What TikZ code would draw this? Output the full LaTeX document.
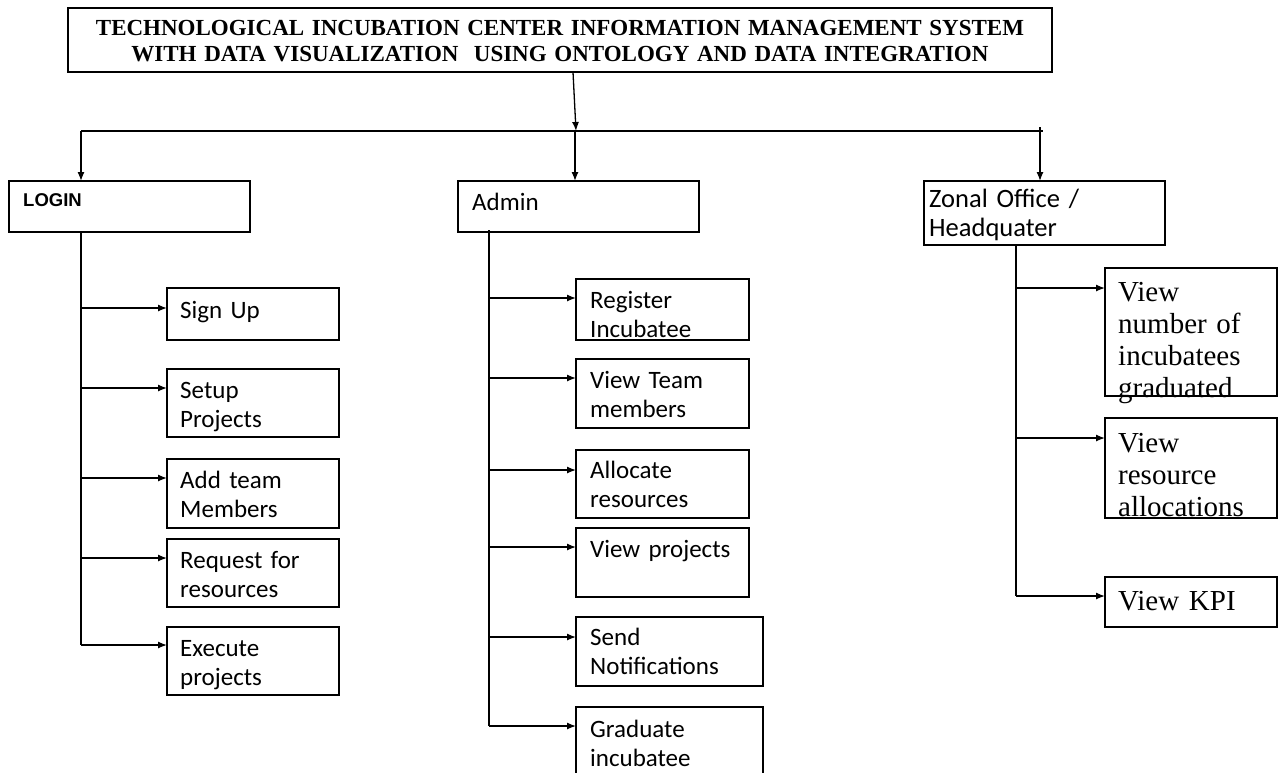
\documentclass[tikz,border=0pt]{standalone}
\usepackage{fontspec}
\setmainfont{Liberation Serif}
\newfontfamily\calibrifont{Carlito}
\newfontfamily\arialfont{Liberation Sans}
\usetikzlibrary{arrows.meta}

\begin{document}
\begin{tikzpicture}[x=1pt,y=-1pt,
  box/.style={draw, line width=1.3pt, anchor=north west, inner sep=0pt, outer sep=0pt},
  wire/.style={line width=1.3pt},
  arr/.style={line width=1.3pt, -{Latex[length=9pt,width=7pt]}},
  sans/.style={anchor=base west, inner sep=0pt, text width=200pt, align=left,
    font=\calibrifont\fontsize{25}{29}\selectfont},
  serif/.style={anchor=base west, inner sep=0pt, text width=200pt, align=left,
    font=\fontsize{29}{32}\selectfont}]
\useasboundingbox (0,0) rectangle (1278,772);
\clip (0,0) rectangle (1278,772);

% ---- title ----
\node[box, minimum width=984pt, minimum height=64pt] (title) at (68,8) {};
\node[anchor=base, inner sep=0pt, text width=1000pt, align=center,
  font=\bfseries\fontsize{23}{26}\selectfont] (titleT) at (560,35)
  {TECHNOLOGICAL INCUBATION CENTER INFORMATION MANAGEMENT SYSTEM\\
   WITH DATA VISUALIZATION\ \ USING ONTOLOGY AND DATA INTEGRATION};

% ---- top level boxes ----
\node[box, minimum width=241pt, minimum height=51pt] (login) at (9,181) {};
\node[anchor=base west, inner sep=0pt, font=\arialfont\bfseries\fontsize{18.5}{22}\selectfont] (loginT) at (23,206) {LOGIN};

\node[box, minimum width=241pt, minimum height=51pt] (admin) at (458,181) {};
\node[sans] (adminT) at (472,210) {Admin};

\node[box, minimum width=241pt, minimum height=64pt] (zonal) at (924,181) {};
\node[sans, font=\calibrifont\fontsize{26.5}{29}\selectfont] (zonalT) at (929,207) {Zonal Office /\\Headquater};

% ---- distribution bus ----
\coordinate (tA) at (573,72);
\coordinate (busM) at (576,131);
\coordinate (busL) at (81,131);
\coordinate (busR) at (1040,131);
\coordinate (busRt) at (1040,127);
\draw[arr] (tA) -- (busM);
\draw[wire] (busL) -- (1043,131);
\draw[arr] (busL) -- (busL |- login.north);
\draw[arr] (575,131) -- (575,181);
\draw[arr] (busRt) -- (busR |- zonal.north);

% ---- LOGIN branch ----
\node[box, minimum width=172pt, minimum height=52pt] (signup) at (167,288) {};
\node[sans] (signupT) at (180,318) {Sign Up};
\node[box, minimum width=172pt, minimum height=68pt] (setup) at (167,369) {};
\node[sans] (setupT) at (180,398) {Setup\\Projects};
\node[box, minimum width=172pt, minimum height=69pt] (addteam) at (167,459) {};
\node[sans] (addteamT) at (180,488) {Add team\\Members};
\node[box, minimum width=172pt, minimum height=68pt] (request) at (167,539) {};
\node[sans] (requestT) at (180,568) {Request for\\resources};
\node[box, minimum width=172pt, minimum height=68pt] (execute) at (167,627) {};
\node[sans] (executeT) at (180,656) {Execute\\projects};

\coordinate (L0) at (81,232);
\coordinate (L1) at (81,308);
\coordinate (L2) at (81,388);
\coordinate (L3) at (81,478);
\coordinate (L4) at (81,558);
\coordinate (L5) at (81,645);
\draw[wire] (L0) -- (L5);
\draw[arr] (L1) -- (L1 -| signup.west);
\draw[arr] (L2) -- (L2 -| setup.west);
\draw[arr] (L3) -- (L3 -| addteam.west);
\draw[arr] (L4) -- (L4 -| request.west);
\draw[arr] (L5) -- (L5 -| execute.west);

% ---- Admin branch ----
\node[box, minimum width=173pt, minimum height=61pt] (register) at (576,279) {};
\node[sans] (registerT) at (590,308) {Register\\Incubatee};
\node[box, minimum width=173pt, minimum height=69pt] (viewteam) at (576,359) {};
\node[sans] (viewteamT) at (590,388) {View Team\\members};
\node[box, minimum width=173pt, minimum height=68pt] (allocate) at (576,450) {};
\node[sans] (allocateT) at (590,478) {Allocate\\resources};
\node[box, minimum width=173pt, minimum height=69pt] (viewproj) at (576,528) {};
\node[sans] (viewprojT) at (590,557) {View projects};
\node[box, minimum width=187pt, minimum height=69pt] (send) at (576,617) {};
\node[sans] (sendT) at (590,645) {Send\\Notifications};
\node[box, minimum width=187pt, minimum height=80pt] (graduate) at (576,707) {};
\node[sans] (graduateT) at (590,737) {Graduate\\incubatee};

\coordinate (A0) at (489,230);
\coordinate (A1) at (489,298);
\coordinate (A2) at (489,378);
\coordinate (A3) at (489,470);
\coordinate (A4) at (489,547);
\coordinate (A5) at (489,637);
\coordinate (A6) at (489,726);
\draw[wire] (A0) -- (A6);
\draw[arr] (A1) -- (A1 -| register.west);
\draw[arr] (A2) -- (A2 -| viewteam.west);
\draw[arr] (A3) -- (A3 -| allocate.west);
\draw[arr] (A4) -- (A4 -| viewproj.west);
\draw[arr] (A5) -- (A5 -| send.west);
\draw[arr] (A6) -- (A6 -| graduate.west);

% ---- Zonal Office branch ----
\node[box, minimum width=172pt, minimum height=128pt] (vnum) at (1105,268) {};
\node[serif] (vnumT) at (1118,301) {View\\number of\\incubatees\\graduated};
\node[box, minimum width=172pt, minimum height=100pt] (vres) at (1105,418) {};
\node[serif] (vresT) at (1118,452) {View\\resource\\allocations};
\node[box, minimum width=172pt, minimum height=50pt] (vkpi) at (1105,577) {};
\node[serif] (vkpiT) at (1118,610) {View KPI};

\coordinate (Z0) at (1016,245);
\coordinate (Z1) at (1016,288);
\coordinate (Z2) at (1016,438);
\coordinate (Z3) at (1016,596);
\draw[wire] (Z0) -- (Z3);
\draw[arr] (Z1) -- (Z1 -| vnum.west);
\draw[arr] (Z2) -- (Z2 -| vres.west);
\draw[arr] (Z3) -- (Z3 -| vkpi.west);
\end{tikzpicture}
\end{document}
